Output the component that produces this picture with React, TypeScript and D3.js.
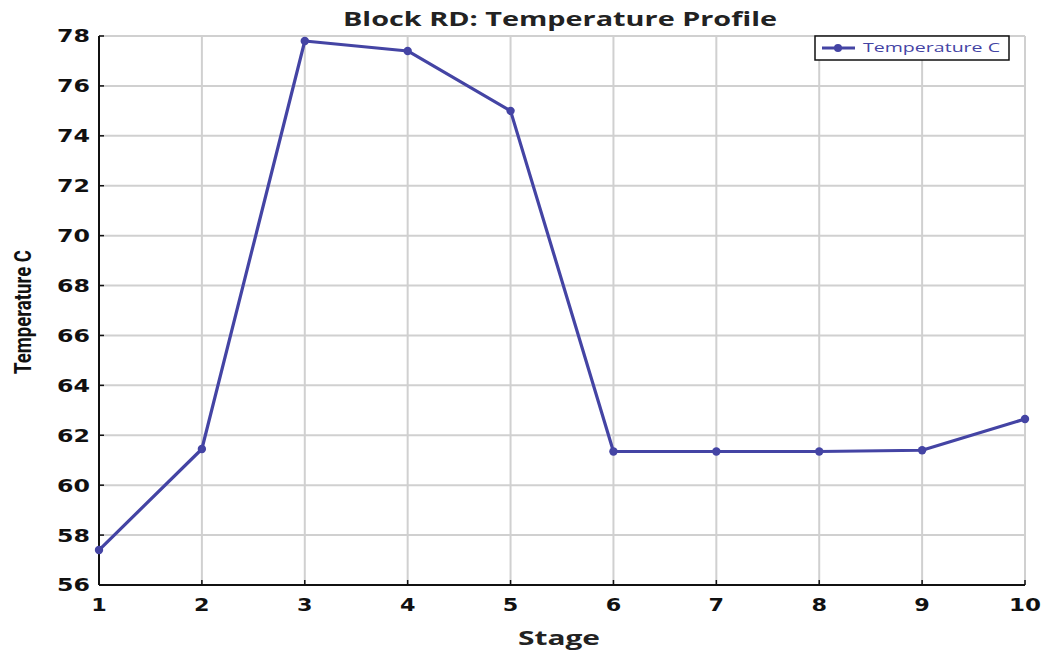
import React from "react";
import * as d3 from "d3";

const stages = [1, 2, 3, 4, 5, 6, 7, 8, 9, 10];
const temperatures = [57.4, 61.45, 77.8, 77.4, 75.0, 61.35, 61.35, 61.35, 61.4, 62.65];
const yTicks = [56, 58, 60, 62, 64, 66, 68, 70, 72, 74, 76, 78];
const title = "Block RD: Temperature Profile";
const xLabel = "Stage";
const yLabel = "Temperature C";
const seriesName = "Temperature C";

export default function App() {
  const W = 1045, H = 654;
  const left = 99, right = 1025, top = 36, bottom = 585;
  const x = d3.scaleLinear().domain([1, 10]).range([left, right]);
  const y = d3.scaleLinear().domain([56, 78]).range([bottom, top]);
  const line = d3.line<number>().x((_, i) => x(stages[i])).y((d) => y(d));
  const color = "#4444a4";
  const tickFont = "'DejaVu Sans', Verdana, sans-serif";
  const wide = (s: string) => String(s).length * 16.5;
  return (
    <svg width={W} height={H} style={{ position: "absolute", left: 0, top: 0, background: "#fff" }}>
      {yTicks.map((t) => (
        <line key={"gy" + t} x1={left} x2={right} y1={y(t)} y2={y(t)} stroke="#d0d0d0" strokeWidth={2} />
      ))}
      {stages.map((s) => (
        <line key={"gx" + s} x1={x(s)} x2={x(s)} y1={top} y2={bottom} stroke="#d0d0d0" strokeWidth={2} />
      ))}
      <line x1={left} x2={left} y1={top} y2={bottom} stroke="#111" strokeWidth={2} />
      <line x1={left} x2={right} y1={bottom} y2={bottom} stroke="#111" strokeWidth={2} />
      {yTicks.map((t) => (
        <g key={"ty" + t}>
          <line x1={left} x2={left + 5} y1={y(t)} y2={y(t)} stroke="#111" strokeWidth={1.5} />
          <text x={90} y={y(t)} dy="0.36em" textAnchor="end" fontFamily={tickFont} fontWeight="bold" fontSize={18} fill="#111"
            textLength={wide(String(t))} lengthAdjust="spacingAndGlyphs">
            {t}
          </text>
        </g>
      ))}
      {stages.map((s) => (
        <g key={"tx" + s}>
          <line x1={x(s)} x2={x(s)} y1={bottom} y2={bottom - 5} stroke="#111" strokeWidth={1.5} />
          <text x={x(s)} y={bottom + 26} textAnchor="middle" fontFamily={tickFont} fontWeight="bold" fontSize={18} fill="#111"
            textLength={wide(String(s)) - 1} lengthAdjust="spacingAndGlyphs">
            {s}
          </text>
        </g>
      ))}
      <path d={line(temperatures) || ""} fill="none" stroke={color} strokeWidth={3.2} strokeLinejoin="round" />
      {temperatures.map((v, i) => (
        <circle key={"p" + i} cx={x(stages[i])} cy={y(v)} r={4.2} fill={color} />
      ))}
      <text x={560} y={26} textAnchor="middle" fontFamily="'Open Sans', sans-serif" fontWeight="bold" fontSize={19} fill="#222"
        textLength={434} lengthAdjust="spacingAndGlyphs">
        {title}
      </text>
      <text x={559} y={645} textAnchor="middle" fontFamily="'Open Sans', sans-serif" fontWeight="bold" fontSize={19} fill="#222"
        textLength={82} lengthAdjust="spacingAndGlyphs">
        {xLabel}
      </text>
      <text transform={`translate(31,${312}) rotate(-90)`} textAnchor="middle" fontFamily="'Liberation Sans Narrow', 'Roboto', sans-serif" fontWeight="bold" fontSize={23} fill="#111"
        textLength={124} lengthAdjust="spacingAndGlyphs">
        {yLabel}
      </text>
      <g>
        <rect x={815} y={36} width={194} height={24} fill="#fff" stroke="#111" strokeWidth={1.5} />
        <line x1={822} x2={855} y1={48} y2={48} stroke={color} strokeWidth={3} />
        <circle cx={838} cy={48} r={4} fill={color} />
        <text x={863} y={52} fontFamily="'Open Sans', sans-serif" fontSize={13} fill={color}
          textLength={137} lengthAdjust="spacingAndGlyphs">
          {seriesName}
        </text>
      </g>
    </svg>
  );
}
